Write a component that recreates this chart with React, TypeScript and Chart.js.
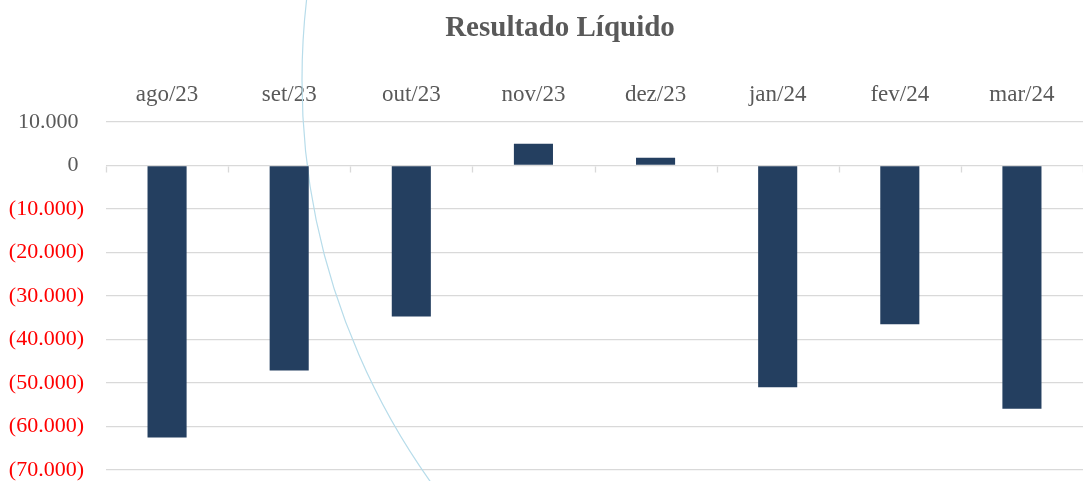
import React, { useEffect, useRef } from 'react';
import { Chart, registerables } from 'chart.js';

Chart.register(...registerables);

const chartTitle = 'Resultado Líquido';
const categories = ['ago/23', 'set/23', 'out/23', 'nov/23', 'dez/23', 'jan/24', 'fev/24', 'mar/24'];
const resultado = [-62500, -47100, -34700, 5000, 1800, -51000, -36500, -55900];
const yMin = -70000;
const yMax = 10000;
const yStep = 10000;

const FONT = "'Liberation Serif', 'Times New Roman', serif";
const GRAY = '#595959';
const RED = '#FF0000';
const GRID = '#D9D9D9';
const BAR = '#243F60';

const fmt = (n: number) => String(Math.round(n)).replace(/\B(?=(\d{3})+(?!\d))/g, '.');

const arcPlugin = {
  id: 'decorArc',
  beforeDatasetsDraw(chart: any) {
    const ctx = chart.ctx;
    ctx.save();
    ctx.strokeStyle = '#B7DCEA';
    ctx.lineWidth = 1.2;
    ctx.beginPath();
    ctx.arc(994, 80, 692, Math.PI * 0.75, Math.PI * 1.25);
    ctx.stroke();
    ctx.restore();
  },
};

// small category-boundary tick marks hanging below the zero line
const zeroTicksPlugin = {
  id: 'zeroTicks',
  beforeDatasetsDraw(chart: any) {
    const x = chart.scales.x;
    const y = chart.scales.y;
    const y0 = Math.round(y.getPixelForValue(0)) + 0.5;
    const ctx = chart.ctx;
    ctx.save();
    ctx.strokeStyle = GRID;
    ctx.lineWidth = 1.3;
    ctx.beginPath();
    for (let i = 0; i <= categories.length; i++) {
      const px = Math.round(x.getPixelForValue(i - 0.5)) + 0.5;
      ctx.moveTo(px, y0);
      ctx.lineTo(px, y0 + 6);
    }
    ctx.stroke();
    ctx.restore();
  },
};

// shift the title box so it is centred a little right of the canvas centre
const titleShiftPlugin = {
  id: 'titleShift',
  afterLayout(chart: any) {
    if (chart.titleBlock) {
      chart.titleBlock.left = 37;
    }
  },
};

export default function App() {
  const ref = useRef<HTMLCanvasElement | null>(null);

  useEffect(() => {
    if (!ref.current) return;
    const chart = new Chart(ref.current, {
      type: 'bar',
      data: {
        labels: categories,
        datasets: [
          {
            label: chartTitle,
            data: resultado,
            backgroundColor: BAR,
            borderWidth: 0,
            categoryPercentage: 1,
            barPercentage: 0.32,
          },
        ],
      },
      plugins: [arcPlugin, zeroTicksPlugin, titleShiftPlugin],
      options: {
        animation: false,
        responsive: false,
        layout: { padding: { top: 0, bottom: 11, left: 0, right: 0 } },
        plugins: {
          legend: { display: false },
          tooltip: { enabled: false },
          title: {
            display: true,
            text: chartTitle,
            color: GRAY,
            font: { family: FONT, size: 29, weight: 'bold' },
            padding: { top: 11, bottom: 0 },
          },
        },
        scales: {
          x: {
            type: 'category',
            position: 'top',
            offset: true,
            grid: { display: false, drawTicks: false, offset: true },
            border: { display: false },
            ticks: {
              color: GRAY,
              font: { family: FONT, size: 23 },
              padding: 13,
              maxRotation: 0,
              autoSkip: false,
            },
            afterFit: (scale: any) => {
              scale.height = 76.2;
            },
          },
          y: {
            type: 'linear',
            min: yMin,
            max: yMax,
            grid: {
              color: GRID,
              lineWidth: 1.3,
              drawTicks: true,
              tickLength: 22,
              tickColor: 'rgba(0,0,0,0)',
            },
            border: { display: false },
            ticks: {
              stepSize: yStep,
              padding: 0,
              font: { family: FONT, size: 22, lineHeight: 1 },
              color: (c: any) => (c.tick && c.tick.value < 0 ? RED : GRAY),
              callback: (v: any) => {
                const n = Number(v);
                if (n < 0) return '(' + fmt(-n) + ')';
                return fmt(n) + ' ';
              },
            },
            afterFit: (scale: any) => {
              scale.width = 106;
            },
          },
        },
      } as any,
    });
    return () => chart.destroy();
  }, []);

  return (
    <div style={{ position: 'absolute', left: 0, top: 0, width: 1083, height: 481, background: '#fff' }}>
      <canvas ref={ref} width={1083} height={481} />
    </div>
  );
}
